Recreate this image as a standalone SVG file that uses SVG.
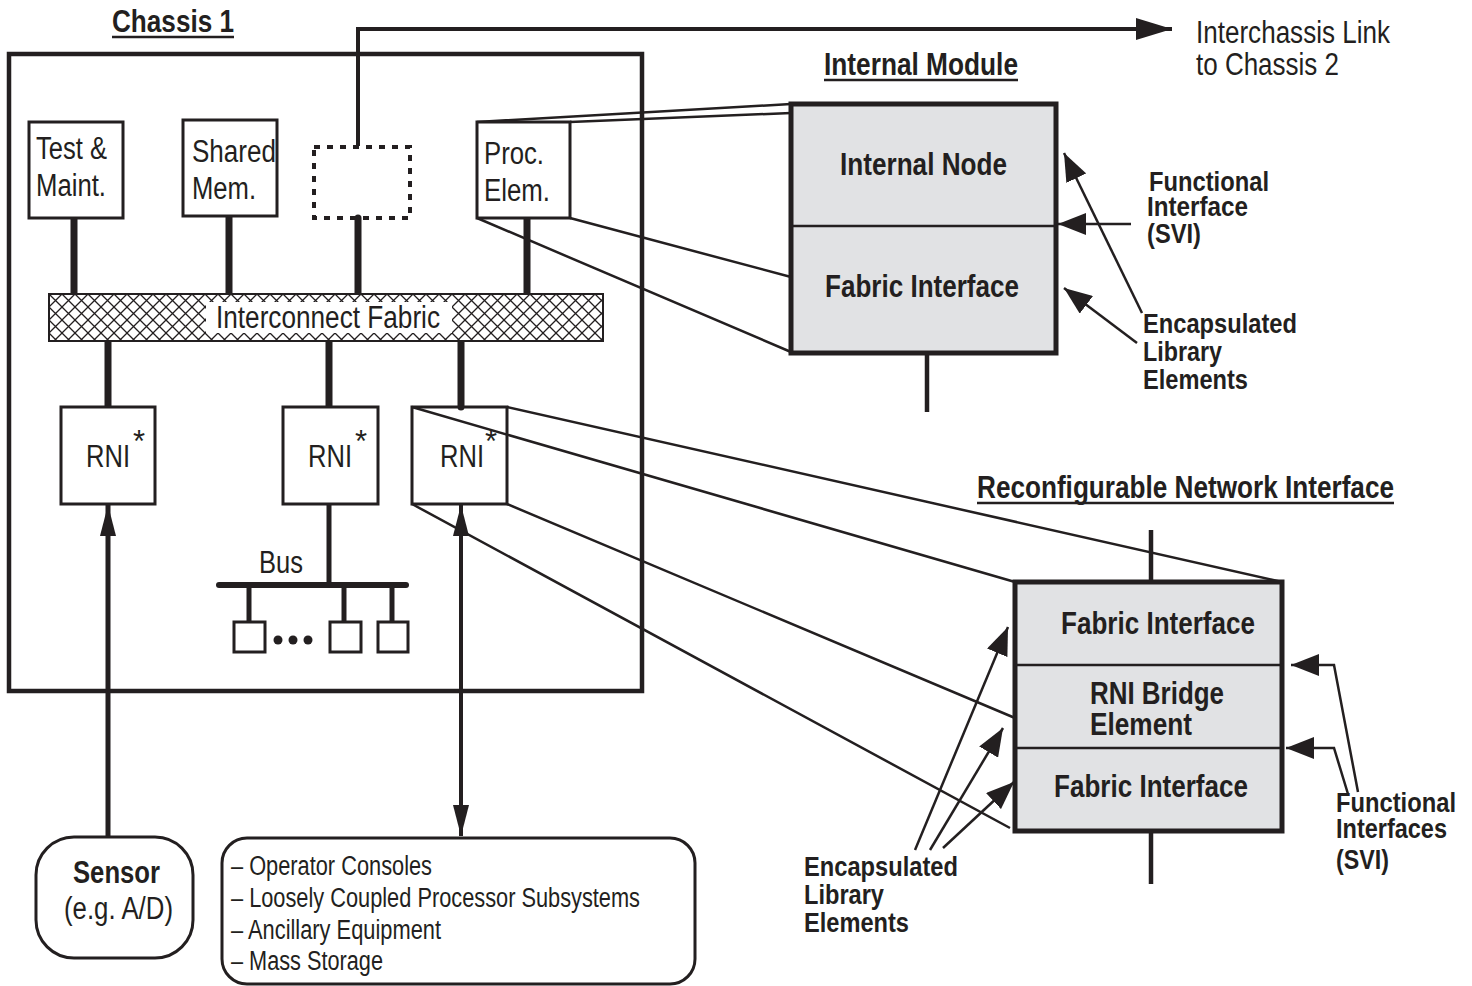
<svg xmlns="http://www.w3.org/2000/svg" width="1472" height="986" viewBox="0 0 1472 986">
<style>
text{font-family:"Liberation Sans Narrow","Liberation Sans",Arial,sans-serif;fill:#231f20}
.r{font-size:31px}
.b{font-size:31px;font-weight:bold}
.a{font-size:27px;font-weight:bold}
.i{font-size:27px}
.box{fill:#fff;stroke:#231f20;stroke-width:3}
.mod{fill:#e1e2e4;stroke:#231f20;stroke-width:5}
.thk{stroke:#231f20;stroke-width:7;stroke-linecap:round;fill:none}
.thin{stroke:#231f20;stroke-width:2.5;fill:none}
.med{stroke:#231f20;stroke-width:4;fill:none}
</style>
<defs>
<pattern id="hatch" width="13" height="13" patternUnits="userSpaceOnUse" x="49" y="294">
<rect width="13" height="13" fill="#fff"/>
<path d="M0,0 L13,13 M13,0 L0,13" stroke="#231f20" stroke-width="1.3"/>
</pattern>
<marker id="ah" markerUnits="userSpaceOnUse" markerWidth="30" markerHeight="22" refX="28" refY="11" orient="auto">
<path d="M0,0 L28,11 L0,22 z" fill="#231f20"/>
</marker>
<marker id="ahl" markerUnits="userSpaceOnUse" markerWidth="38" markerHeight="22" refX="36" refY="11" orient="auto">
<path d="M0,0 L36,11 L0,22 z" fill="#231f20"/>
</marker>
<marker id="ahs" markerUnits="userSpaceOnUse" markerWidth="32" markerHeight="18" refX="31" refY="9" orient="auto-start-reverse">
<path d="M0,1 L31,9 L0,17 z" fill="#231f20"/>
</marker>
</defs>

<g id="chassis">
<text class="b" x="112" y="32" textLength="122" lengthAdjust="spacingAndGlyphs">Chassis 1</text>
<line x1="112" y1="37" x2="234" y2="37" stroke="#231f20" stroke-width="2.5"/>
<rect x="9" y="54" width="633" height="637" fill="none" stroke="#231f20" stroke-width="4.5"/>
</g>

<g id="connectors">
<path class="med" d="M358,146 L358,29 L1172,29" marker-end="url(#ahl)" stroke-width="3"/>
<path class="thin" d="M477,122 L791,104 M570,122 L791,113 M570,218 L791,277 M477,218 L791,352"/>
<path class="thin" d="M507,407 L1282,582 M412,407 L1015,582 M507,504 L1015,718 M412,504 L1010,828"/>
<line class="thk" x1="74" y1="218" x2="74" y2="294"/>
<line class="thk" x1="229" y1="216" x2="229" y2="294"/>
<line class="thk" x1="358" y1="218" x2="358" y2="294"/>
<line class="thk" x1="527" y1="218" x2="527" y2="294"/>
<line class="thk" x1="108" y1="341" x2="108" y2="407"/>
<line class="thk" x1="329" y1="341" x2="329" y2="407"/>
<line class="thk" x1="461" y1="341" x2="461" y2="407"/>
<line x1="329" y1="504" x2="329" y2="585" stroke="#231f20" stroke-width="5"/>
<line x1="219" y1="585" x2="406" y2="585" stroke="#231f20" stroke-width="6" stroke-linecap="round"/>
<line x1="249" y1="585" x2="249" y2="622" stroke="#231f20" stroke-width="5"/>
<line x1="344" y1="585" x2="344" y2="622" stroke="#231f20" stroke-width="5"/>
<line x1="392" y1="585" x2="392" y2="622" stroke="#231f20" stroke-width="5"/>
<line x1="108" y1="837" x2="108" y2="505" stroke="#231f20" stroke-width="5" marker-end="url(#ahs)"/>
<line x1="461" y1="505" x2="461" y2="836" stroke="#231f20" stroke-width="4" marker-start="url(#ahs)" marker-end="url(#ahs)"/>
<line x1="927" y1="353" x2="927" y2="412" stroke="#231f20" stroke-width="4.5"/>
<line class="thin" x1="1131" y1="224" x2="1058" y2="224" marker-end="url(#ah)"/>
<line class="thin" x1="1142" y1="313" x2="1064" y2="153" marker-end="url(#ah)"/>
<line class="thin" x1="1137" y1="343" x2="1064" y2="288" marker-end="url(#ah)"/>
<line x1="1151" y1="530" x2="1151" y2="582" stroke="#231f20" stroke-width="4.5"/>
<line x1="1151" y1="831" x2="1151" y2="884" stroke="#231f20" stroke-width="4.5"/>
<path class="thin" d="M1358,792 L1334,665 L1291,665" marker-end="url(#ah)"/>
<path class="thin" d="M1348,794 L1334,748 L1286,748" marker-end="url(#ah)"/>
<line class="thin" x1="915" y1="850" x2="1008" y2="627" marker-end="url(#ah)"/>
<line class="thin" x1="930" y1="850" x2="1003" y2="728" marker-end="url(#ah)"/>
<line class="thin" x1="943" y1="848" x2="1014" y2="782" marker-end="url(#ah)"/>
</g>

<g id="test-maint">
<rect class="box" x="29" y="122" width="94" height="96"/>
<text class="r" x="36" y="159" textLength="71" lengthAdjust="spacingAndGlyphs">Test &amp;</text>
<text class="r" x="36" y="196" textLength="70" lengthAdjust="spacingAndGlyphs">Maint.</text>
</g>
<g id="shared-mem">
<rect class="box" x="183" y="120" width="94" height="96"/>
<text class="r" x="192" y="162" textLength="84" lengthAdjust="spacingAndGlyphs">Shared</text>
<text class="r" x="192" y="199" textLength="64" lengthAdjust="spacingAndGlyphs">Mem.</text>
</g>
<g id="empty-slot">
<rect x="314" y="147" width="96" height="71" fill="none" stroke="#231f20" stroke-width="4" stroke-dasharray="6 7"/>
</g>
<g id="proc-elem">
<rect class="box" x="477" y="122" width="93" height="96"/>
<text class="r" x="484" y="164" textLength="60" lengthAdjust="spacingAndGlyphs">Proc.</text>
<text class="r" x="484" y="201" textLength="66" lengthAdjust="spacingAndGlyphs">Elem.</text>
</g>

<g id="fabric">
<rect x="49" y="294" width="554" height="47" fill="url(#hatch)" stroke="#231f20" stroke-width="2"/>
<rect x="206" y="302" width="246" height="31" fill="#fff"/>
<text class="r" x="216" y="328" textLength="224" lengthAdjust="spacingAndGlyphs">Interconnect Fabric</text>
</g>

<g id="rni-1">
<rect class="box" x="61" y="407" width="94" height="97"/>
<text class="r" x="86" y="467"><tspan textLength="44" lengthAdjust="spacingAndGlyphs">RNI</tspan><tspan dx="3" dy="-15">*</tspan></text>
</g>
<g id="rni-2">
<rect class="box" x="283" y="407" width="95" height="97"/>
<text class="r" x="308" y="467"><tspan textLength="44" lengthAdjust="spacingAndGlyphs">RNI</tspan><tspan dx="3" dy="-15">*</tspan></text>
</g>
<g id="rni-3">
<rect x="412" y="407" width="95" height="97" fill="none" stroke="#231f20" stroke-width="3"/>
<text class="r" x="440" y="467"><tspan textLength="44" lengthAdjust="spacingAndGlyphs">RNI</tspan><tspan dx="1" dy="-15">*</tspan></text>
</g>

<g id="bus-devices">
<text class="r" x="259" y="573" textLength="44" lengthAdjust="spacingAndGlyphs">Bus</text>
<rect class="box" x="234" y="622" width="31" height="30" stroke-width="2.5"/>
<rect class="box" x="330" y="622" width="31" height="30" stroke-width="2.5"/>
<rect class="box" x="378" y="622" width="30" height="30" stroke-width="2.5"/>
<circle cx="278" cy="640" r="4.5" fill="#231f20"/>
<circle cx="293" cy="640" r="4.5" fill="#231f20"/>
<circle cx="308" cy="640" r="4.5" fill="#231f20"/>
</g>

<g id="sensor">
<rect x="36" y="837" width="157" height="121" rx="38" ry="38" fill="#fff" stroke="#231f20" stroke-width="3"/>
<text class="b" x="73" y="883" textLength="87" lengthAdjust="spacingAndGlyphs">Sensor</text>
<text class="r" x="64" y="919" textLength="109" lengthAdjust="spacingAndGlyphs">(e.g. A/D)</text>
</g>

<g id="io-list">
<rect x="222" y="838" width="473" height="146" rx="25" ry="25" fill="#fff" stroke="#231f20" stroke-width="3"/>
<text class="i" x="231" y="875" textLength="201" lengthAdjust="spacingAndGlyphs">– Operator Consoles</text>
<text class="i" x="231" y="907" textLength="409" lengthAdjust="spacingAndGlyphs">– Loosely Coupled Processor Subsystems</text>
<text class="i" x="231" y="939" textLength="210" lengthAdjust="spacingAndGlyphs">– Ancillary Equipment</text>
<text class="i" x="231" y="970" textLength="152" lengthAdjust="spacingAndGlyphs">– Mass Storage</text>
</g>

<g id="interchassis-label">
<text class="r" x="1196" y="43" textLength="194" lengthAdjust="spacingAndGlyphs">Interchassis Link</text>
<text class="r" x="1196" y="75" textLength="143" lengthAdjust="spacingAndGlyphs">to Chassis 2</text>
</g>

<g id="internal-module">
<text class="b" x="824" y="75" textLength="194" lengthAdjust="spacingAndGlyphs">Internal Module</text>
<line x1="824" y1="80" x2="1018" y2="80" stroke="#231f20" stroke-width="2.5"/>
<rect class="mod" x="791" y="104" width="265" height="249"/>
<line x1="791" y1="226" x2="1056" y2="226" stroke="#231f20" stroke-width="2.5"/>
<text class="b" x="840" y="175" textLength="167" lengthAdjust="spacingAndGlyphs">Internal Node</text>
<text class="b" x="825" y="297" textLength="194" lengthAdjust="spacingAndGlyphs">Fabric Interface</text>
</g>

<g id="im-labels">
<text class="a" x="1149" y="191" textLength="120" lengthAdjust="spacingAndGlyphs">Functional</text>
<text class="a" x="1147" y="216" textLength="101" lengthAdjust="spacingAndGlyphs">Interface</text>
<text class="a" x="1147" y="243" textLength="54" lengthAdjust="spacingAndGlyphs">(SVI)</text>
<text class="a" x="1143" y="333" textLength="154" lengthAdjust="spacingAndGlyphs">Encapsulated</text>
<text class="a" x="1143" y="361" textLength="79" lengthAdjust="spacingAndGlyphs">Library</text>
<text class="a" x="1143" y="389" textLength="105" lengthAdjust="spacingAndGlyphs">Elements</text>
</g>

<g id="rni-detail">
<text class="b" x="977" y="498" textLength="417" lengthAdjust="spacingAndGlyphs">Reconfigurable Network Interface</text>
<line x1="977" y1="503" x2="1394" y2="503" stroke="#231f20" stroke-width="2.5"/>
<rect class="mod" x="1015" y="582" width="267" height="249"/>
<line x1="1015" y1="665" x2="1282" y2="665" stroke="#231f20" stroke-width="2.5"/>
<line x1="1015" y1="748" x2="1282" y2="748" stroke="#231f20" stroke-width="2.5"/>
<text class="b" x="1061" y="634" textLength="194" lengthAdjust="spacingAndGlyphs">Fabric Interface</text>
<text class="b" x="1090" y="704" textLength="134" lengthAdjust="spacingAndGlyphs">RNI Bridge</text>
<text class="b" x="1090" y="735" textLength="102" lengthAdjust="spacingAndGlyphs">Element</text>
<text class="b" x="1054" y="797" textLength="194" lengthAdjust="spacingAndGlyphs">Fabric Interface</text>
</g>

<g id="rni-labels">
<text class="a" x="1336" y="812" textLength="120" lengthAdjust="spacingAndGlyphs">Functional</text>
<text class="a" x="1336" y="838" textLength="111" lengthAdjust="spacingAndGlyphs">Interfaces</text>
<text class="a" x="1336" y="869" textLength="53" lengthAdjust="spacingAndGlyphs">(SVI)</text>
<text class="a" x="804" y="876" textLength="154" lengthAdjust="spacingAndGlyphs">Encapsulated</text>
<text class="a" x="804" y="904" textLength="80" lengthAdjust="spacingAndGlyphs">Library</text>
<text class="a" x="804" y="932" textLength="105" lengthAdjust="spacingAndGlyphs">Elements</text>
</g>
</svg>
